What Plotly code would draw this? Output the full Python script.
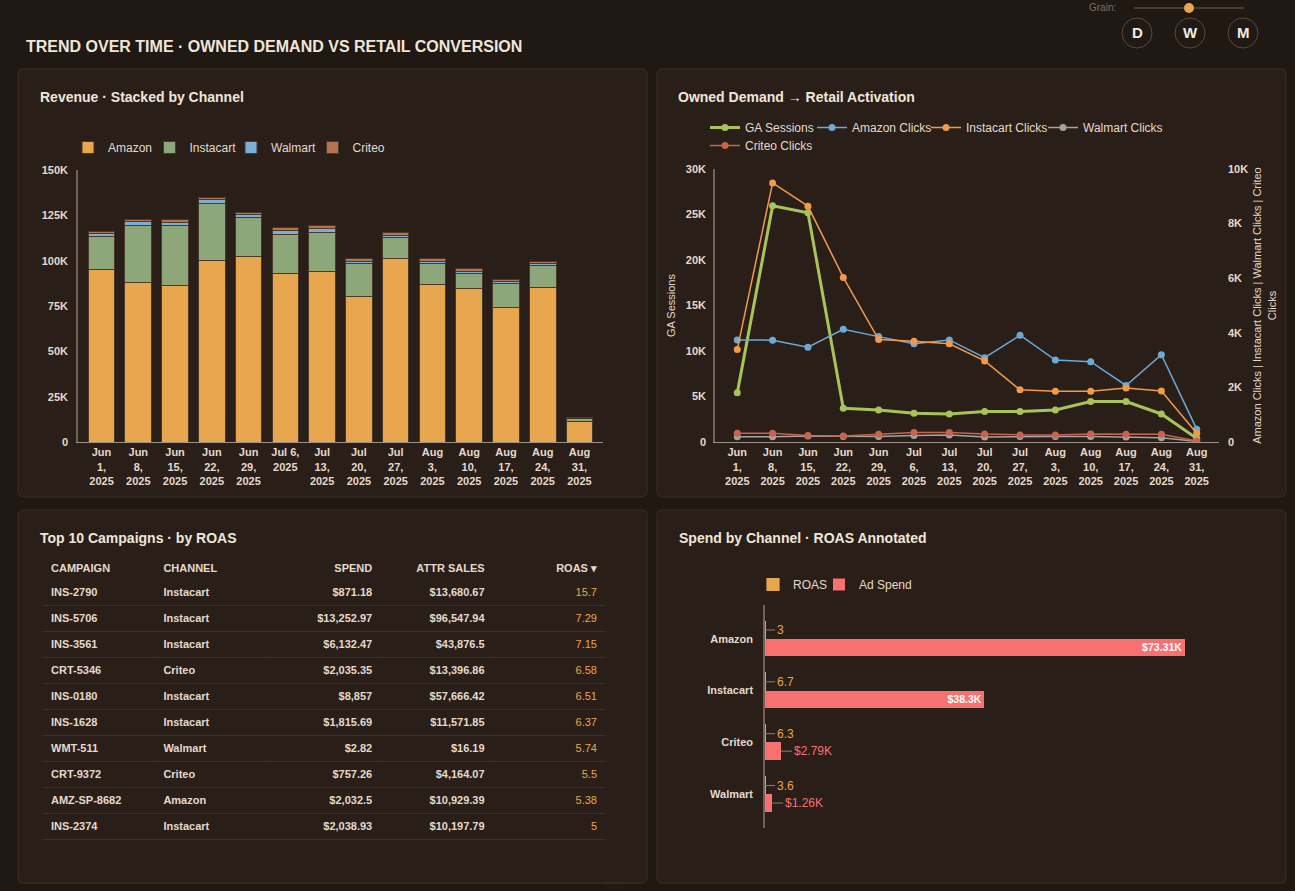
import plotly.graph_objects as go

W, H = 1295, 891

# ---------------- data ----------------
weeks = ["2025-06-01", "2025-06-08", "2025-06-15", "2025-06-22", "2025-06-29", "2025-07-06", "2025-07-13",
         "2025-07-20", "2025-07-27", "2025-08-03", "2025-08-10", "2025-08-17", "2025-08-24", "2025-08-31"]
rev_tick_labels = ["Jun<br>1,<br>2025", "Jun<br>8,<br>2025", "Jun<br>15,<br>2025", "Jun<br>22,<br>2025",
                   "Jun<br>29,<br>2025", "Jul 6,<br>2025", "Jul<br>13,<br>2025", "Jul<br>20,<br>2025",
                   "Jul<br>27,<br>2025", "Aug<br>3,<br>2025", "Aug<br>10,<br>2025", "Aug<br>17,<br>2025",
                   "Aug<br>24,<br>2025", "Aug<br>31,<br>2025"]
line_tick_labels = ["Jun<br>1,<br>2025", "Jun<br>8,<br>2025", "Jun<br>15,<br>2025", "Jun<br>22,<br>2025",
                    "Jun<br>29,<br>2025", "Jul<br>6,<br>2025", "Jul<br>13,<br>2025", "Jul<br>20,<br>2025",
                    "Jul<br>27,<br>2025", "Aug<br>3,<br>2025", "Aug<br>10,<br>2025", "Aug<br>17,<br>2025",
                    "Aug<br>24,<br>2025", "Aug<br>31,<br>2025"]

rev_amazon = [95000, 88000, 86200, 99900, 102300, 92700, 93800, 80200, 101400, 86800, 84400, 74400, 85000, 11200]
rev_instacart = [18500, 31500, 33000, 31500, 21400, 21900, 21600, 18000, 11200, 11400, 8700, 12800, 12500, 1700]
rev_walmart = [1700, 1900, 2000, 2200, 1800, 2200, 2600, 1300, 1500, 1300, 1100, 1300, 1100, 300]
rev_criteo = [1100, 1400, 1500, 1300, 1100, 1700, 1400, 1500, 1300, 1500, 1300, 900, 900, 200]
rev_tickvals = [0, 25000, 50000, 75000, 100000, 125000, 150000]
rev_ticktext = ["0", "25K", "50K", "75K", "100K", "125K", "150K"]

ga_sessions = [5400, 25950, 25200, 3700, 3520, 3150, 3080, 3340, 3340, 3520, 4440, 4440, 3080, 400]
amazon_clicks = [3740, 3730, 3470, 4130, 3860, 3600, 3740, 3090, 3910, 3000, 2940, 2070, 3200, 470]
instacart_clicks = [3390, 9490, 8640, 6030, 3750, 3690, 3600, 2970, 1910, 1860, 1860, 1980, 1870, 320]
walmart_clicks = [190, 190, 220, 200, 200, 240, 260, 180, 200, 200, 200, 180, 160, 20]
criteo_clicks = [320, 320, 240, 220, 280, 350, 350, 290, 260, 260, 290, 280, 280, 40]
ga_tickvals = [0, 5000, 10000, 15000, 20000, 25000, 30000]
ga_ticktext = ["0", "5K", "10K", "15K", "20K", "25K", "30K"]
clk_tickvals = [0, 2000, 4000, 6000, 8000, 10000]
clk_ticktext = ["0", "2K", "4K", "6K", "8K", "10K"]

tbl_campaign = ["INS-2790", "INS-5706", "INS-3561", "CRT-5346", "INS-0180", "INS-1628", "WMT-511", "CRT-9372",
                "AMZ-SP-8682", "INS-2374"]
tbl_channel = ["Instacart", "Instacart", "Instacart", "Criteo", "Instacart", "Instacart", "Walmart", "Criteo",
               "Amazon", "Instacart"]
tbl_spend = [871.18, 13252.97, 6132.47, 2035.35, 8857, 1815.69, 2.82, 757.26, 2032.5, 2038.93]
tbl_attr_sales = [13680.67, 96547.94, 43876.5, 13396.86, 57666.42, 11571.85, 16.19, 4164.07, 10929.39, 10197.79]
tbl_roas = [15.7, 7.29, 7.15, 6.58, 6.51, 6.37, 5.74, 5.5, 5.38, 5]
tbl_headers = ["CAMPAIGN", "CHANNEL", "SPEND", "ATTR SALES", "ROAS ▾"]

sp_channels = ["Amazon", "Instacart", "Criteo", "Walmart"]
sp_spend = [73310, 38300, 2790, 1260]
sp_roas = [3.0, 6.7, 6.3, 3.6]

# ---------------- style ----------------
PAGE = "#1f1813"
CARD = "#291f18"
BORDER = "#3a2e25"
TXT = "#e4d9cc"
TITLE = "#efe6da"
C_AMZ = "#e8a64f"
C_INS = "#8ea77a"
C_WMT = "#79b0da"
C_CRT = "#b9714e"
C_GA = "#a8c35a"
C_AC = "#6da9d6"
C_IC = "#f29a4a"
C_WC = "#a6a29e"
C_CC = "#c8634e"
C_SPEND = "#f87171"
C_ROAS = "#e8a64f"
FONT = "Liberation Sans, Arial, sans-serif"


def X(px):
    return px / W


def Y(py):
    return 1 - py / H


def money(v):
    s = f"{v:,.2f}".rstrip("0").rstrip(".")
    return "$" + s


def kfmt(v):
    return "$" + f"{v / 1000:.2f}".rstrip("0").rstrip(".") + "K"


def rrect(x0, y0, x1, y1, r=6):
    rx, ry = r / W, r / H
    a0, b0, a1, b1 = X(x0), Y(y0), X(x1), Y(y1)
    return (f"M{a0 + rx},{b0} L{a1 - rx},{b0} Q{a1},{b0} {a1},{b0 - ry} "
            f"L{a1},{b1 + ry} Q{a1},{b1} {a1 - rx},{b1} L{a0 + rx},{b1} "
            f"Q{a0},{b1} {a0},{b1 + ry} L{a0},{b0 - ry} Q{a0},{b0} {a0 + rx},{b0} Z")


fig = go.Figure()

# ---------------- revenue stacked bars ----------------
bar_line = dict(color="#4a3828", width=1)
for name, vals, col in [("Amazon", rev_amazon, C_AMZ), ("Instacart", rev_instacart, C_INS),
                        ("Walmart", rev_walmart, C_WMT), ("Criteo", rev_criteo, C_CRT)]:
    fig.add_trace(go.Bar(x=weeks, y=vals, name=name, marker=dict(color=col, line=bar_line),
                         xaxis="x", yaxis="y", legend="legend"))

# ---------------- line chart ----------------
fig.add_trace(go.Scatter(x=weeks, y=ga_sessions, name="GA Sessions", mode="lines+markers",
                         line=dict(color=C_GA, width=3), marker=dict(size=7, color=C_GA),
                         xaxis="x2", yaxis="y2", legend="legend2"))
for name, vals, col, lg in [("Amazon Clicks", amazon_clicks, C_AC, "legend5"),
                            ("Instacart Clicks", instacart_clicks, C_IC, "legend6"),
                            ("Walmart Clicks", walmart_clicks, C_WC, "legend7"),
                            ("Criteo Clicks", criteo_clicks, C_CC, "legend4")]:
    fig.add_trace(go.Scatter(x=weeks, y=vals, name=name, mode="lines+markers",
                             line=dict(color=col, width=1.5), marker=dict(size=7, color=col),
                             xaxis="x2", yaxis="y3", legend=lg))

# ---------------- spend bars ----------------
BW = 0.3375
fig.add_trace(go.Bar(y=sp_channels, x=sp_roas, orientation="h", name="ROAS",
                     marker=dict(color=C_ROAS, line=dict(color=C_ROAS, width=1.2)),
                     width=BW, offset=-BW, xaxis="x4", yaxis="y4", legend="legend3"))
fig.add_trace(go.Bar(y=sp_channels, x=sp_spend, orientation="h", name="Ad Spend",
                     marker=dict(color=C_SPEND, line=dict(width=0)),
                     width=BW, offset=0, xaxis="x4", yaxis="y4", legend="legend8",
                     text=[kfmt(v) if v > 20000 else "" for v in sp_spend],
                     textposition="inside", insidetextanchor="end",
                     textfont=dict(family=FONT, size=11, color="#ffffff", weight="bold")))

annotations = []
for ch, r, s in zip(sp_channels, sp_roas, sp_spend):
    annotations.append(dict(x=r, y=ch, xref="x4", yref="y4", text=f"{r:g}", showarrow=True,
                            arrowhead=0, arrowwidth=1, arrowcolor="#8a7e74", ax=10, ay=0,
                            xanchor="left", yshift=BW * 51.86 / 2,
                            font=dict(family=FONT, size=12, color=C_ROAS)))
    if s <= 20000:
        annotations.append(dict(x=s, y=ch, xref="x4", yref="y4", text=kfmt(s), showarrow=True,
                                arrowhead=0, arrowwidth=1, arrowcolor="#8a7e74", ax=11, ay=0,
                                xanchor="left", yshift=-BW * 51.86 / 2,
                                font=dict(family=FONT, size=12, color=C_SPEND)))

# ---------------- table ----------------
fig.add_trace(go.Table(
    domain=dict(x=[X(43), X(605)], y=[0, Y(555.5)]),
    columnwidth=[1, 1, 1, 1, 1],
    header=dict(values=tbl_headers, align=["left", "left", "right", "right", "right"],
                font=dict(family=FONT, size=11, color=TXT, weight="bold"),
                fill_color=CARD, line=dict(width=0, color=CARD), height=24),
    cells=dict(values=[tbl_campaign, tbl_channel, [money(v) for v in tbl_spend],
                       [money(v) for v in tbl_attr_sales], [f"{v:g}" for v in tbl_roas]],
               align=["left", "left", "right", "right", "right"],
               font=dict(family=FONT, size=11, color=[TXT, TXT, TXT, TXT, C_ROAS],
                         weight=["bold", "bold", "bold", "bold", "normal"]),
               fill_color=CARD, line=dict(width=0, color=CARD), height=26),
))

# ---------------- decorations ----------------
shapes = []
for (x0, y0, x1, y1) in [(18, 69, 647, 497), (657, 69, 1286, 497), (18, 510, 647, 883), (657, 510, 1286, 883)]:
    shapes.append(dict(type="path", path=rrect(x0, y0, x1, y1), xref="paper", yref="paper",
                       fillcolor=CARD, line=dict(color=BORDER, width=1), layer="below"))
for i in range(len(tbl_campaign)):
    yy = 605.5 + 26 * i
    shapes.append(dict(type="line", xref="paper", yref="paper", x0=X(43), x1=X(605), y0=Y(yy), y1=Y(yy),
                       line=dict(color="#3e3128", width=1)))
# cover the table's scroll track (plain card background)
shapes.append(dict(type="rect", xref="paper", yref="paper", x0=X(605.5), x1=X(630), y0=Y(882), y1=Y(578),
                   fillcolor=CARD, line=dict(width=0), layer="above"))
# card bottom-left redraw of lower border (under the table area)
shapes.append(dict(type="line", xref="paper", yref="paper", x0=X(24), x1=X(641), y0=Y(883), y1=Y(883),
                   line=dict(color=BORDER, width=1), layer="above"))
# grain slider
shapes.append(dict(type="line", xref="paper", yref="paper", x0=X(1134), x1=X(1244), y0=Y(8), y1=Y(8),
                   line=dict(color="#4a3c31", width=2)))
shapes.append(dict(type="circle", xref="paper", yref="paper", x0=X(1184), x1=X(1194), y0=Y(13), y1=Y(3),
                   fillcolor=C_AMZ, line=dict(width=0)))
for cx in [1137, 1190, 1243]:
    shapes.append(dict(type="circle", xref="paper", yref="paper", x0=X(cx - 15), x1=X(cx + 15),
                       y0=Y(48), y1=Y(18), fillcolor="#211914", line=dict(color="#5a4a3e", width=1)))

annotations += [
    dict(text="<b>TREND OVER TIME · OWNED DEMAND VS RETAIL CONVERSION</b>", x=X(24), y=Y(47),
         font=dict(family=FONT, size=16, color=TITLE)),
    dict(text="<b>Revenue · Stacked by Channel</b>", x=X(38), y=Y(97), font=dict(family=FONT, size=14, color=TITLE)),
    dict(text="<b>Owned Demand → Retail Activation</b>", x=X(676), y=Y(97),
         font=dict(family=FONT, size=14, color=TITLE)),
    dict(text="<b>Top 10 Campaigns · by ROAS</b>", x=X(38), y=Y(538), font=dict(family=FONT, size=14, color=TITLE)),
    dict(text="<b>Spend by Channel · ROAS Annotated</b>", x=X(677), y=Y(538),
         font=dict(family=FONT, size=14, color=TITLE)),
    dict(text="Grain:", x=X(1087), y=Y(8), font=dict(family=FONT, size=10, color="#7d7066")),
]
for a in annotations[-6:]:
    a.update(xref="paper", yref="paper", xanchor="left", yanchor="middle", showarrow=False)
for cx, t in [(1137, "D"), (1190, "W"), (1243, "M")]:
    annotations.append(dict(text=f"<b>{t}</b>", x=X(cx), y=Y(33), xref="paper", yref="paper",
                            xanchor="center", yanchor="middle", showarrow=False,
                            font=dict(family=FONT, size=15, color="#f2ebe2")))

tickfont = dict(family=FONT, size=11, color=TXT, weight="bold")
legfont = dict(family=FONT, size=12, color=TXT)


def leg(xp, yp, **kw):
    d = dict(x=X(xp), y=Y(yp), xanchor="left", yanchor="top", orientation="h", font=legfont,
             bgcolor="rgba(0,0,0,0)", traceorder="normal")
    d.update(kw)
    return d


fig.update_layout(
    width=W, height=H, margin=dict(l=0, r=0, t=0, b=0, autoexpand=False),
    paper_bgcolor=PAGE, plot_bgcolor="rgba(0,0,0,0)",
    barmode="stack", bargap=0.274,
    font=dict(family=FONT, color=TXT),
    shapes=shapes, annotations=annotations,
    xaxis=dict(domain=[X(78), X(603)], anchor="y", type="category", categoryarray=weeks,
               range=[-0.64, 13.64], tickvals=weeks, ticktext=rev_tick_labels, tickfont=tickfont,
               showgrid=False, showline=True, linecolor="#9c938b", linewidth=1, ticks="", zeroline=False),
    yaxis=dict(domain=[Y(442), Y(170)], anchor="x", range=[0, 150000], tickvals=rev_tickvals,
               ticktext=rev_ticktext, tickfont=tickfont, showgrid=False, showline=True,
               linecolor="#6e625a", linewidth=1.5, zeroline=False, ticklabelstandoff=6),
    xaxis2=dict(domain=[X(715), X(1219)], anchor="y2", type="category", categoryarray=weeks,
                range=[-0.63, 13.63], tickvals=weeks, ticktext=line_tick_labels, tickfont=tickfont,
                showgrid=False, showline=True, linecolor="#9c938b", linewidth=1, ticks="", zeroline=False),
    yaxis2=dict(domain=[Y(442), Y(169)], anchor="x2", range=[0, 30000], tickvals=ga_tickvals,
                ticktext=ga_ticktext, tickfont=tickfont, showgrid=False, showline=True,
                linecolor="#6e625a", linewidth=1.5, zeroline=False, ticklabelstandoff=5,
                title=dict(text="GA Sessions", font=dict(family=FONT, size=11, color=TXT), standoff=8),
                automargin=True),
    yaxis3=dict(overlaying="y2", side="right", anchor="x2", range=[0, 10000], tickvals=clk_tickvals,
                ticktext=clk_ticktext, tickfont=tickfont, showgrid=False, showline=False, zeroline=False,
                ticklabelstandoff=8,
                title=dict(text="Amazon Clicks | Instacart Clicks | Walmart Clicks | Criteo<br>Clicks",
                           font=dict(family=FONT, size=11, color=TXT), standoff=6),
                automargin=True),
    xaxis4=dict(domain=[X(765), X(1223.3)], anchor="y4", range=[0, 80000], visible=False, showgrid=False),
    yaxis4=dict(domain=[Y(828), Y(605)], anchor="x4", type="category", categoryarray=sp_channels,
                range=[3.65, -0.65], tickfont=tickfont, showgrid=False, showline=True,
                linecolor="#6e625a", linewidth=1.5, zeroline=False, ticklabelstandoff=8),
    legend=leg(68, 133, entrywidth=36.5),
    legend2=leg(705, 113),
    legend5=leg(812, 113),
    legend6=leg(926, 113),
    legend7=leg(1043, 113),
    legend4=leg(705, 131),
    legend3=leg(753, 570),
    legend8=leg(819, 570),
)

fig.write_html("out.html")
